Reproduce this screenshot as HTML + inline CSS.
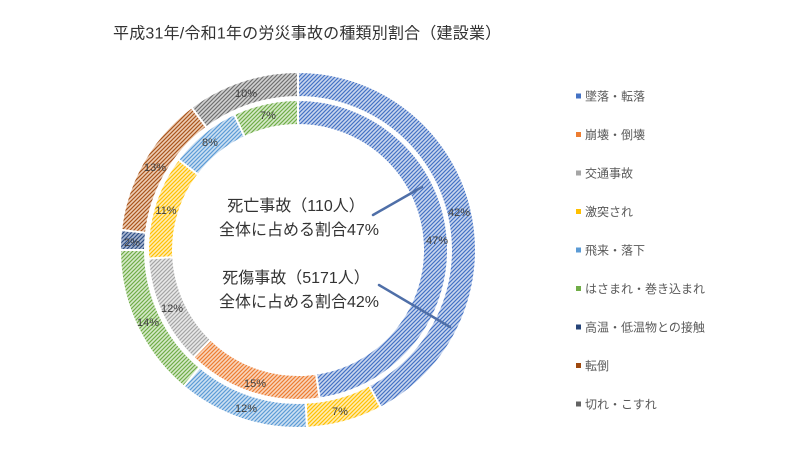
<!DOCTYPE html>
<html><head><meta charset="utf-8"><style>
html,body{margin:0;padding:0;background:#fff;}
svg{display:block;}
text{font-family:"Liberation Sans","Noto Sans CJK JP",sans-serif;}
</style></head><body>
<svg width="800" height="450" viewBox="0 0 800 450" xmlns="http://www.w3.org/2000/svg">
<defs>
<pattern id="pBlue" width="4" height="4" patternUnits="userSpaceOnUse"><rect width="4" height="4" fill="#c9d6ee"/><path d="M-1,1 L1,-1 M0,4 L4,0 M3,5 L5,3" stroke="#4472c4" stroke-width="1.15"/></pattern>
<pattern id="pOrange" width="4" height="4" patternUnits="userSpaceOnUse"><rect width="4" height="4" fill="#f9d5bd"/><path d="M-1,1 L1,-1 M0,4 L4,0 M3,5 L5,3" stroke="#ed7d31" stroke-width="1.15"/></pattern>
<pattern id="pGray" width="4" height="4" patternUnits="userSpaceOnUse"><rect width="4" height="4" fill="#e8e8e8"/><path d="M-1,1 L1,-1 M0,4 L4,0 M3,5 L5,3" stroke="#a5a5a5" stroke-width="1.15"/></pattern>
<pattern id="pYellow" width="4" height="4" patternUnits="userSpaceOnUse"><rect width="4" height="4" fill="#ffecb4"/><path d="M-1,1 L1,-1 M0,4 L4,0 M3,5 L5,3" stroke="#ffc000" stroke-width="1.15"/></pattern>
<pattern id="pLBlue" width="4" height="4" patternUnits="userSpaceOnUse"><rect width="4" height="4" fill="#cde0f2"/><path d="M-1,1 L1,-1 M0,4 L4,0 M3,5 L5,3" stroke="#5b9bd5" stroke-width="1.15"/></pattern>
<pattern id="pGreen" width="4" height="4" patternUnits="userSpaceOnUse"><rect width="4" height="4" fill="#d6e9ca"/><path d="M-1,1 L1,-1 M0,4 L4,0 M3,5 L5,3" stroke="#70ad47" stroke-width="1.15"/></pattern>
<pattern id="pDBlue" width="4" height="4" patternUnits="userSpaceOnUse"><rect width="4" height="4" fill="#aab8d3"/><path d="M-1,1 L1,-1 M0,4 L4,0 M3,5 L5,3" stroke="#2f4f84" stroke-width="1.15"/></pattern>
<pattern id="pBrown" width="4" height="4" patternUnits="userSpaceOnUse"><rect width="4" height="4" fill="#edcdb5"/><path d="M-1,1 L1,-1 M0,4 L4,0 M3,5 L5,3" stroke="#a9551c" stroke-width="1.15"/></pattern>
<pattern id="pDGray" width="4" height="4" patternUnits="userSpaceOnUse"><rect width="4" height="4" fill="#d2d2d2"/><path d="M-1,1 L1,-1 M0,4 L4,0 M3,5 L5,3" stroke="#707070" stroke-width="1.15"/></pattern>
</defs>

<text x="113" y="38.5" font-size="16" fill="#333" letter-spacing="0.2">平成31年/令和1年の労災事故の種類別割合（建設業）</text>

<g stroke="#fff" stroke-width="2">
<!-- Outer ring -->
<path fill="url(#pBlue)" d="M298,72 A178,178 0 0 1 380.79,407.57 L369.16,385.44 A153,153 0 0 0 298,97 Z"/>
<path fill="url(#pYellow)" d="M380.79,407.57 A178,178 0 0 1 306.94,427.78 L305.69,402.81 A153,153 0 0 0 369.16,385.44 Z"/>
<path fill="url(#pLBlue)" d="M306.94,427.78 A178,178 0 0 1 183.68,386.44 L199.73,367.26 A153,153 0 0 0 305.69,402.81 Z"/>
<path fill="url(#pGreen)" d="M183.68,386.44 A178,178 0 0 1 120,250 L145,250 A153,153 0 0 0 199.73,367.26 Z"/>
<path fill="url(#pDBlue)" d="M120,250 A178,178 0 0 1 121.14,229.91 L145.98,232.73 A153,153 0 0 0 145,250 Z"/>
<path fill="url(#pBrown)" d="M121.14,229.91 A178,178 0 0 1 191.58,107.31 L206.53,127.35 A153,153 0 0 0 145.98,232.73 Z"/>
<path fill="url(#pDGray)" d="M191.58,107.31 A178,178 0 0 1 298,72 L298,97 A153,153 0 0 0 206.53,127.35 Z"/>
<!-- Inner ring -->
<path fill="url(#pBlue)" d="M298,100 A150,150 0 0 1 319.60,398.44 L316.00,373.70 A125,125 0 0 0 298,125 Z"/>
<path fill="url(#pOrange)" d="M319.60,398.44 A150,150 0 0 1 193.28,357.39 L210.73,339.49 A125,125 0 0 0 316.00,373.70 Z"/>
<path fill="url(#pGray)" d="M193.28,357.39 A150,150 0 0 1 148.24,258.48 L173.20,257.07 A125,125 0 0 0 210.73,339.49 Z"/>
<path fill="url(#pYellow)" d="M148.24,258.48 A150,150 0 0 1 178.33,159.56 L198.27,174.64 A125,125 0 0 0 173.20,257.07 Z"/>
<path fill="url(#pLBlue)" d="M178.33,159.56 A150,150 0 0 1 234.13,114.28 L244.78,136.90 A125,125 0 0 0 198.27,174.64 Z"/>
<path fill="url(#pGreen)" d="M234.13,114.28 A150,150 0 0 1 298,100 L298,125 A125,125 0 0 0 244.78,136.90 Z"/>
</g>

<g font-size="11" fill="#404040" text-anchor="middle">
<text x="459" y="216">42%</text>
<text x="340" y="415">7%</text>
<text x="246" y="412">12%</text>
<text x="148" y="326">14%</text>
<text x="132" y="246">2%</text>
<text x="155" y="171">13%</text>
<text x="246" y="97">10%</text>
<text x="437" y="244">47%</text>
<text x="255" y="387">15%</text>
<text x="172" y="312">12%</text>
<text x="166" y="214">11%</text>
<text x="210" y="146">8%</text>
<text x="268" y="119">7%</text>
</g>

<g stroke="#4f6fa8" stroke-width="2.5" stroke-linecap="round">
<line x1="373" y1="215" x2="422" y2="187"/>
<line x1="379" y1="285" x2="450" y2="327"/>
</g>

<g font-size="16" fill="#333" text-anchor="middle">
<text x="296" y="211">死亡事故（110人）</text>
<text x="299" y="235">全体に占める割合47%</text>
<text x="296" y="283">死傷事故（5171人）</text>
<text x="299" y="307">全体に占める割合42%</text>
</g>

<g font-size="12" fill="#595959">
<rect x="576" y="93.5" width="5" height="5" fill="#4472c4"/><text x="585" y="100.5">墜落・転落</text>
<rect x="576" y="132" width="5" height="5" fill="#ed7d31"/><text x="585" y="139">崩壊・倒壊</text>
<rect x="576" y="170.5" width="5" height="5" fill="#a5a5a5"/><text x="585" y="177.5">交通事故</text>
<rect x="576" y="209" width="5" height="5" fill="#ffc000"/><text x="585" y="216">激突され</text>
<rect x="576" y="247.5" width="5" height="5" fill="#5b9bd5"/><text x="585" y="254.5">飛来・落下</text>
<rect x="576" y="286" width="5" height="5" fill="#70ad47"/><text x="585" y="293">はさまれ・巻き込まれ</text>
<rect x="576" y="324.5" width="5" height="5" fill="#264478"/><text x="585" y="331.5">高温・低温物との接触</text>
<rect x="576" y="363" width="5" height="5" fill="#9e480e"/><text x="585" y="370">転倒</text>
<rect x="576" y="401.5" width="5" height="5" fill="#636363"/><text x="585" y="408.5">切れ・こすれ</text>
</g>
</svg>
</body></html>
